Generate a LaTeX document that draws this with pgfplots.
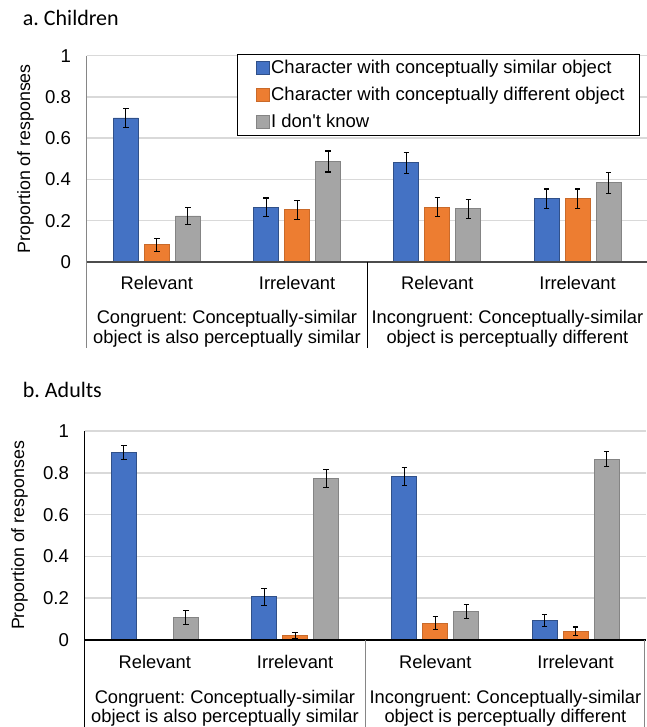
\documentclass[border=0pt]{standalone}
\usepackage{fontspec}
\setmainfont{Liberation Sans}
\newfontfamily\calibri{Carlito}
\usepackage{pgfplots}
\usepackage{pgfplotstable}
\pgfplotsset{compat=1.18}
\frenchspacing
\definecolor{cblue}{HTML}{4472C4}
\definecolor{corange}{HTML}{ED7D31}
\definecolor{cgray}{HTML}{A5A5A5}
\definecolor{gridc}{HTML}{D9D9D9}
\definecolor{axgray}{HTML}{868686}

\pgfplotstableread{
x blue be orange oe gray ge
0 0.698 0.048 0.084 0.031 0.223 0.042
1 0.265 0.045 0.253 0.045 0.487 0.051
2 0.481 0.051 0.265 0.046 0.258 0.045
3 0.306 0.048 0.306 0.048 0.384 0.050
}\children
\pgfplotstableread{
x blue be orange oe gray ge
0 0.896 0.033 0.000 0.000 0.107 0.034
1 0.206 0.040 0.022 0.015 0.772 0.042
2 0.783 0.042 0.081 0.031 0.136 0.035
3 0.094 0.030 0.041 0.021 0.866 0.036
}\adults

\pgfplotsset{
  mystyle/.style={
    scale only axis, width=561bp,
    xmin=-0.5, xmax=3.5, ymin=0, ymax=1,
    ybar=6bp, bar width=25bp,
    ytick={0,0.2,0.4,0.6,0.8,1},
    xtick=\empty,
    axis line style={draw=none},
    tick style={draw=none},
    ymajorgrids, grid style={color=gridc, line width=1.5bp},
    clip=false,
    /pgf/number format/assume math mode=true,
    yticklabel style={font=\fontsize{18.6bp}{22bp}\selectfont, inner sep=0pt, anchor=east, xshift=-15.5bp},
    error bars/y dir=both, error bars/y explicit,
    error bars/error bar style={black, line width=1.1bp},
    error bars/error mark options={rotate=90, mark size=2.8bp, black, line width=1.1bp},
  },
  bblue/.style={fill=cblue, draw=cblue!70!black, line width=0.9bp},
  borange/.style={fill=corange, draw=corange!85!black, line width=0.9bp},
  bgray/.style={fill=cgray, draw=cgray!80!black, line width=0.9bp},
}
\newcommand{\lab}{\fontsize{18.3bp}{19.5bp}\selectfont}

\begin{document}
\begin{tikzpicture}
\path[use as bounding box] (0,0) rectangle (647bp,727bp);

% panel titles
\node[anchor=base west, inner sep=0pt, font=\calibri\fontsize{22bp}{26bp}\selectfont] at (22.7bp,701.3bp) {a. Children};
\node[anchor=base west, inner sep=0pt, font=\calibri\fontsize{22bp}{26bp}\selectfont] at (22.7bp,329.7bp) {b. Adults};

% y labels
\node[rotate=90, inner sep=0pt, font=\fontsize{17.8bp}{20bp}\selectfont] at (25.5bp,568.3bp) {Proportion of responses};
\node[rotate=90, inner sep=0pt, font=\fontsize{17.8bp}{20bp}\selectfont] at (19.5bp,191.5bp) {Proportion of responses};

% ---------- a. Children ----------
\begin{axis}[mystyle, height=206.3bp, at={(86.7bp,465bp)}, anchor=south west,
  legend style={at={(0.2684,1.008)}, anchor=north west, draw=black, line width=1bp,
    font=\fontsize{18.5bp}{22bp}\selectfont, inner xsep=13bp, inner ysep=4.5bp,
    row sep=9bp, nodes={inner xsep=1.5bp, inner ysep=0bp, text height=14bp, text depth=4bp}},
  legend cell align=left,
  legend image code/.code={\path (0bp,0bp); \draw[#1, line width=0.8bp] (5bp,-6.5bp) rectangle (18bp,6.5bp);}
  ]
\addplot[bblue] table[x=x, y=blue, y error=be] {\children};
\addplot[borange] table[x=x, y=orange, y error=oe] {\children};
\addplot[bgray] table[x=x, y=gray, y error=ge] {\children};
\legend{Character with conceptually similar object, Character with conceptually different object, I don\textquotesingle t know}
\draw[axgray, line width=1.3bp] (axis cs:-0.5,1) -- (axis cs:-0.5,-0.4169);
\draw[black!70, line width=1.3bp] (axis cs:-0.5,0) -- (axis cs:3.5,0);
\draw[black, line width=1bp] (axis cs:1.5,0) -- (axis cs:1.5,-0.4169);
\node[anchor=base, inner sep=0pt, font=\lab] at (axis cs:0,-0.1323) {Relevant};
\node[anchor=base, inner sep=0pt, font=\lab] at (axis cs:1,-0.1323) {Irrelevant};
\node[anchor=base, inner sep=0pt, font=\lab] at (axis cs:2,-0.1323) {Relevant};
\node[anchor=base, inner sep=0pt, font=\lab] at (axis cs:3,-0.1323) {Irrelevant};
\node[anchor=base, inner sep=0pt, align=center, font=\lab] at (axis cs:0.5,-0.3941) {Congruent: Conceptually-similar\\object is also perceptually similar};
\node[anchor=base, inner sep=0pt, align=center, font=\lab] at (axis cs:2.5,-0.3941) {Incongruent: Conceptually-similar\\object is perceptually different};
\end{axis}

% ---------- b. Adults ----------
\begin{axis}[mystyle, height=209bp, at={(84.7bp,87bp)}, anchor=south west]
\addplot[bblue] table[x=x, y=blue, y error=be] {\adults};
\addplot[borange] table[x=x, y=orange, y error=oe] {\adults};
\addplot[bgray] table[x=x, y=gray, y error=ge] {\adults};
\draw[black, line width=1.3bp] (axis cs:-0.5,1) -- (axis cs:-0.5,-0.4163);
\draw[black, line width=1.3bp] (axis cs:-0.5,0) -- (axis cs:3.5,0);
\draw[axgray, line width=1.3bp] (axis cs:1.5,0) -- (axis cs:1.5,-0.4163);
\draw[axgray, line width=1.3bp] (axis cs:3.4893,0) -- (axis cs:3.4893,-0.4163);
\node[anchor=base, inner sep=0pt, font=\lab] at (axis cs:0,-0.1354) {Relevant};
\node[anchor=base, inner sep=0pt, font=\lab] at (axis cs:1,-0.1354) {Irrelevant};
\node[anchor=base, inner sep=0pt, font=\lab] at (axis cs:2,-0.1354) {Relevant};
\node[anchor=base, inner sep=0pt, font=\lab] at (axis cs:3,-0.1354) {Irrelevant};
\node[anchor=base, inner sep=0pt, align=center, font=\lab] at (axis cs:0.5,-0.3957) {Congruent: Conceptually-similar\\object is also perceptually similar};
\node[anchor=base, inner sep=0pt, align=center, font=\lab] at (axis cs:2.5,-0.3957) {Incongruent: Conceptually-similar\\object is perceptually different};
\end{axis}
\end{tikzpicture}
\end{document}
